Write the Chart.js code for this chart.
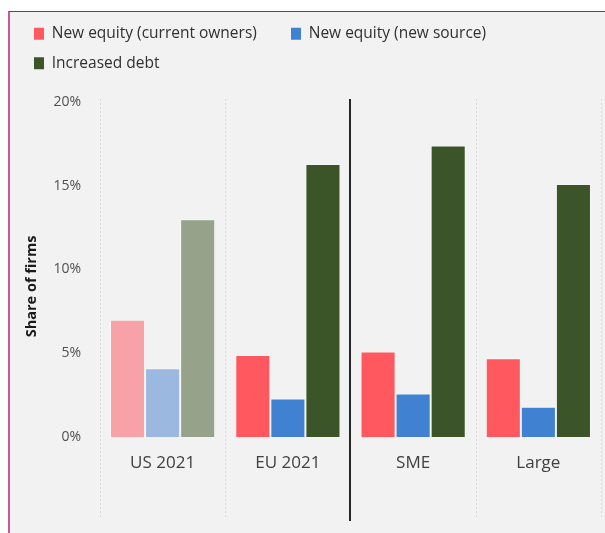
<!DOCTYPE html>
<html>
<head>
<meta charset="utf-8">
<script src="https://cdn.jsdelivr.net/npm/chart.js@4"></script>
<style>
  html, body { margin: 0; padding: 0; background: #ffffff; width: 605px; height: 533px; overflow: hidden; }
  #frame { position: absolute; left: 8px; top: 11px; width: 597px; height: 522px; background: #f2f2f2;
           border-top: 1px solid #a3245e; border-left: 2px solid #c65a9a; box-sizing: border-box; }
  #c { position: absolute; left: 0; top: 0; }
</style>
</head>
<body>
<div id="frame"></div>
<canvas id="c" width="605" height="533"></canvas>
<script>
const categories = ['US 2021', 'EU 2021', 'SME', 'Large'];
const seriesNames = ['New equity (current owners)', 'New equity (new source)', 'Increased debt'];
const currentOwners = [7.0, 4.9, 5.1, 4.7];
const newSource = [4.1, 2.3, 2.6, 1.8];
const increasedDebt = [13.0, 16.3, 17.4, 15.1];
const yTickValues = [0, 5, 10, 15, 20];
const separatorAfter = 1; // solid line after the second category

const FONT = "'Open Sans', 'Noto Sans', sans-serif";

const boundaryPlugin = {
  id: 'boundaries',
  beforeDatasetsDraw(chart) {
    const x = chart.scales.x, area = chart.chartArea, ctx = chart.ctx;
    const n = categories.length;
    const half = (x.getPixelForValue(1) - x.getPixelForValue(0)) / 2;
    ctx.save();
    for (let i = 0; i <= n; i++) {
      const px = (i < n ? x.getPixelForValue(i) - half : x.getPixelForValue(n - 1) + half);
      if (i === separatorAfter + 1) {
        ctx.strokeStyle = '#262626'; ctx.lineWidth = 2; ctx.setLineDash([]);
        ctx.beginPath(); ctx.moveTo(Math.round(px) - 1, area.top - 3); ctx.lineTo(Math.round(px) - 1, area.bottom + 84); ctx.stroke();
      } else {
        ctx.strokeStyle = '#d9d9d9'; ctx.lineWidth = 1; ctx.setLineDash([2, 2]);
        ctx.beginPath(); ctx.moveTo(Math.round(px) + 0.5, area.top - 3); ctx.lineTo(Math.round(px) + 0.5, area.bottom + 82); ctx.stroke();
      }
    }
    ctx.restore();
  }
};

new Chart(document.getElementById('c'), {
  type: 'bar',
  data: {
    labels: categories,
    datasets: [
      { label: seriesNames[0], data: currentOwners,
        backgroundColor: ['#f8a2a7', '#ff585e', '#ff585e', '#ff585e'],
        borderColor: 'rgba(255,255,255,0.45)', borderWidth: 1 },
      { label: seriesNames[1], data: newSource,
        backgroundColor: ['#9ab8e0', '#4181d2', '#4181d2', '#4181d2'],
        borderColor: 'rgba(255,255,255,0.45)', borderWidth: 1 },
      { label: seriesNames[2], data: increasedDebt,
        backgroundColor: ['#96a28a', '#3b5428', '#3b5428', '#3b5428'],
        borderColor: 'rgba(255,255,255,0.35)', borderWidth: 1 }
    ]
  },
  options: {
    responsive: false,
    animation: false,
    devicePixelRatio: 1,
    layout: { padding: { left: 20, right: 4, top: 12, bottom: 0 } },
    datasets: { bar: { categoryPercentage: 0.84, barPercentage: 1.0 } },
    plugins: {
      tooltip: { enabled: false },
      legend: {
        position: 'top', align: 'start',
        labels: {
          boxWidth: 10, boxHeight: 12, padding: 14, color: '#303030',
          font: { family: FONT, size: 15.5 },
          generateLabels(chart) {
            const items = Chart.defaults.plugins.legend.labels.generateLabels(chart);
            items.forEach(it => {
              const ds = chart.data.datasets[it.datasetIndex];
              it.fillStyle = ds.backgroundColor[1];
              it.strokeStyle = ds.backgroundColor[1];
              it.lineWidth = 0;
            });
            items[0].text = items[0].text + '     ';
            return items;
          }
        }
      },
      subtitle: { display: true, text: '', weight: 500, position: 'top',
                  font: { size: 10, lineHeight: 1 }, padding: { top: 11, bottom: 0 } }
    },
    scales: {
      x: {
        grid: { display: false },
        border: { display: false },
        ticks: { color: '#404040', font: { family: FONT, size: 17, lineHeight: 1.2 }, padding: 7.5, maxRotation: 0 },
        afterFit(scale) { scale.height = 96; }
      },
      y: {
        min: yTickValues[0], max: yTickValues[yTickValues.length - 1],
        grid: { display: false },
        border: { display: false },
        afterBuildTicks(scale) { scale.ticks = yTickValues.map(v => ({ value: v })); },
        ticks: { color: '#505050', font: { family: FONT, size: 14 }, padding: 11,
                 callback: v => v + '%' },
        title: { display: true, text: 'Share of firms' + '         ', color: '#1a1a1a',
                 font: { family: FONT, size: 14.5, weight: 'bold', lineHeight: 1.2 }, padding: { top: 3, bottom: 0 } },
        afterFit(scale) { scale.width = 80; }
      }
    }
  },
  plugins: [boundaryPlugin]
});
</script>
</body>
</html>
